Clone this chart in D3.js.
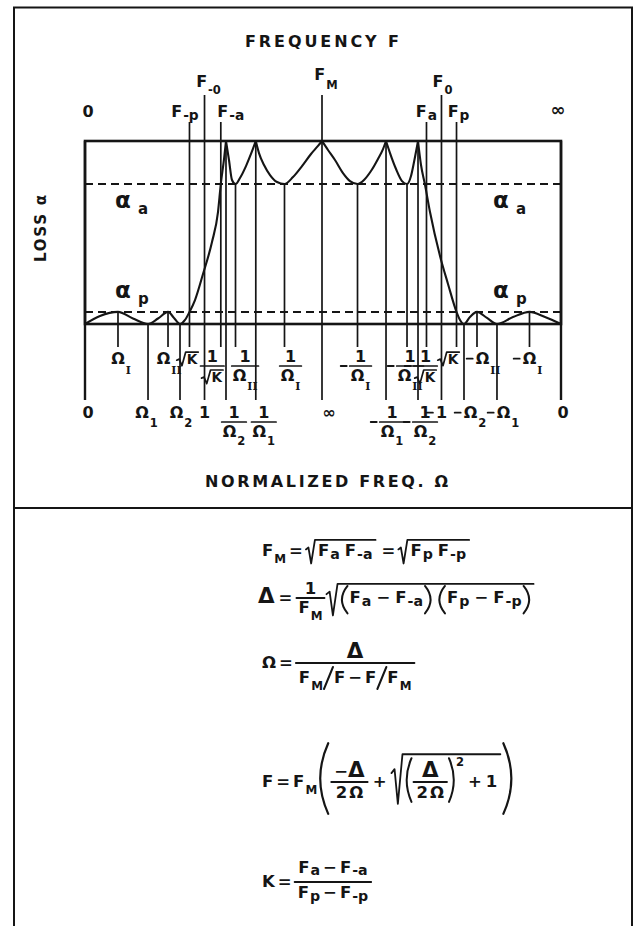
<!DOCTYPE html>
<html>
<head>
<meta charset="utf-8">
<title>Loss characteristic and normalized frequency</title>
<script src="https://cdn.jsdelivr.net/npm/d3@7/dist/d3.min.js"></script>
<style>
  html, body { margin: 0; padding: 0; background: #fff; }
  svg { display: block; }
  svg text { font-family: "DejaVu Sans", "Liberation Sans", sans-serif; font-weight: bold; fill: #151515; }
</style>
</head>
<body>
<svg id="chart" width="638" height="926"></svg>
<script>
// ---------------- data ----------------

// Marks on the normalized-frequency axis, in axis units (0 = left end, 100 = right end)
const omegaLabels = ["0", "Ω_I", "Ω_1", "Ω_II", "Ω_2", "√K", "1", "1/√K", "1/Ω_2", "1/Ω_II", "1/Ω_1", "1/Ω_I", "∞",
                     "-1/Ω_I", "-1/Ω_1", "-1/Ω_II", "-1/Ω_2", "-1/√K", "-1", "√K", "-Ω_2", "-Ω_II", "-Ω_1", "-Ω_I", "0"];
const omegaPos = [0, 6.93, 13.24, 17.44, 19.96, 21.95, 25.11, 28.53, 29.62, 31.62, 35.88, 41.91, 49.79,
                  57.25, 63.24, 67.65, 69.96, 71.74, 74.89, 78.05, 79.62, 82.35, 86.55, 93.38, 100];
// "long" marks run down to the lower label row, "short" ones stop at the upper row
const omegaRow = ["long", "short", "long", "short", "long", "short", "long", "short", "long", "short", "long", "short", "long",
                  "short", "long", "short", "long", "short", "long", "short", "long", "short", "long", "short", "long"];
// where each guide line starts: pole (top of frame), stop / pass / zero (on the loss curve), freq (frequency tick)
const omegaFrom = ["pole", "pass", "zero", "pass", "zero", "freq", "freq", "freq", "pole", "stop", "pole", "stop", "freq",
                   "stop", "pole", "stop", "pole", "freq", "freq", "freq", "zero", "pass", "zero", "pass", "pole"];

// Frequency labels F with subscripts, each attached to one omega mark
const freqSubs = ["-p", "-0", "-a", "M", "a", "0", "p"];
const freqMark = [5, 6, 7, 12, 17, 18, 19];
const freqTier = ["low", "high", "low", "high", "low", "high", "low"];
const freqEnds = ["0", "∞"];

// Loss levels as a fraction of the frame height (top edge = infinite loss)
const lossPass = 0.066;   // α_p
const lossStop = 0.765;   // α_a

// Loss curve, one piece between consecutive attenuation poles: [axis units, loss]
const lossCurve = [
  [[0, 0], [3.15, 0.044], [6.93, 0.066], [10.08, 0.03], [13.24, 0], [15.34, 0.03], [17.44, 0.066],
   [18.7, 0.033], [19.96, 0], [21.01, 0.022], [21.95, 0.066], [23.11, 0.131], [24.79, 0.273],
   [26.68, 0.448], [27.94, 0.612], [28.53, 0.765], [29.2, 0.9], [29.62, 1]],
  [[29.62, 1], [30.25, 0.896], [30.88, 0.787], [31.62, 0.765], [32.56, 0.798], [33.82, 0.863],
   [34.87, 0.929], [35.88, 1]],
  [[35.88, 1], [36.55, 0.934], [37.61, 0.869], [38.87, 0.814], [40.34, 0.776], [41.91, 0.765],
   [43.7, 0.803], [45.59, 0.863], [47.48, 0.929], [48.95, 0.973], [49.79, 1]],
  [[49.79, 1], [51.05, 0.951], [52.52, 0.896], [54.2, 0.825], [55.67, 0.781], [57.25, 0.765],
   [58.61, 0.787], [60.08, 0.836], [61.55, 0.902], [62.61, 0.956], [63.24, 1]],
  [[63.24, 1], [64.08, 0.934], [65.34, 0.847], [66.6, 0.781], [67.65, 0.765], [68.49, 0.809],
   [69.12, 0.885], [69.96, 1]],
  [[69.96, 1], [70.59, 0.869], [71.4, 0.765], [72.48, 0.612], [74.58, 0.372], [76.26, 0.219],
   [78.05, 0.066], [78.78, 0.022], [79.62, 0], [80.88, 0.038], [82.35, 0.066], [84.45, 0.033],
   [86.55, 0], [89.92, 0.038], [93.38, 0.066], [96.64, 0.038], [100, 0]]
];

// ---------------- layout ----------------
const W = 638, H = 926;
const INK = "#151515";
const frame = { left: 85, right: 561, top: 141, bottom: 324 };
const rows = { tickHigh: 95, tickLow: 122, shortEnd: 347, longEnd: 400,
               shortBase: 364, shortBar: 366, longBase: 418, longBar: 422 };
// small horizontal shifts of individual axis labels away from their marks
const omegaNudge = { 0: 3, 2: -6, 3: -4.5, 4: -3.5, 5: 2.5, 7: -4, 8: 3.5, 9: 4, 10: 3.5, 11: 3, 12: 7,
                     14: 1.5, 15: -2.5, 16: 2.5, 17: 3.5, 19: -3.5, 20: 6.5, 21: 5.5, 22: 6.5, 24: 2 };
const freqNudge = [-4.5, 4, 10, 4, 0, 1, 2];

const svg = d3.select("#chart");
const x = d3.scaleLinear().domain([0, 100]).range([frame.left, frame.right]);
const y = d3.scaleLinear().domain([0, 1]).range([frame.bottom, frame.top]);

svg.append("rect").attr("width", W).attr("height", H).attr("fill", "#fff");

// ---------- a tiny box layout for math lettering ----------
const meas = svg.append("text").attr("x", -999).attr("y", -999);
function textW(s, size, fam) {
  meas.attr("font-size", size).style("font-family", fam || null).text(s);
  return meas.node().getComputedTextLength();
}
function stroke(sel, w) {
  return sel.attr("fill", "none").attr("stroke", INK).attr("stroke-width", w || 1.8).attr("stroke-linecap", "round");
}
function tx(s, size, fam) {
  const w = textW(s, size, fam);
  return { w, a: size * 0.73, d: size * 0.05, anc: w / 2,
    draw(g, x0, y0) {
      const t = g.append("text").attr("x", x0).attr("y", y0).attr("font-size", size).text(s);
      if (fam) t.style("font-family", fam);
    } };
}
function hs(w) { return { w, a: 0, d: 0, anc: w / 2, draw() {} }; }
function row(items) {
  const w = d3.sum(items, b => b.w);
  return { w, a: d3.max(items, b => b.a), d: d3.max(items, b => b.d), anc: w / 2,
    draw(g, x0, y0) { let cx = x0; items.forEach(b => { b.draw(g, cx, y0); cx += b.w; }); } };
}
// subscript: lowercase sits near the baseline, capitals / digits / numerals drop lower
function sub(base, s, size, mode) {
  const lower = /[a-z]/.test(s);
  const roman = mode === "roman";
  const ss = roman ? size * 0.68 : lower ? size * 0.86 : size * 0.72;
  const drop = roman ? size * 0.6 : mode === "deep" ? size * 0.55 : lower ? size * 0.16 : size * 0.42;
  const sb = tx(s, ss, roman ? "DejaVu Serif" : null);
  return { w: base.w + 1 + sb.w, a: base.a, d: Math.max(base.d, drop + ss * 0.2), anc: base.w / 2,
    draw(g, x0, y0) { base.draw(g, x0, y0); sb.draw(g, x0 + base.w + 1, y0 + drop); } };
}
function sup(base, s, size) {
  const sb = tx(s, size * 0.7);
  const rise = base.a - size * 0.45;
  return { w: base.w + 1 + sb.w, a: Math.max(base.a, rise + sb.a), d: base.d, anc: base.anc,
    draw(g, x0, y0) { base.draw(g, x0, y0); sb.draw(g, x0 + base.w + 1, y0 - rise); } };
}
function frac(num, den, o = {}) {
  const axis = o.axis ?? 5, gap = o.gap ?? 3, pad = o.pad ?? 3;
  const w = Math.max(num.w, den.w) + 2 * pad;
  return { w, a: axis + gap + num.d + num.a, d: gap + den.a + den.d - axis, frac: true,
    anc: (w - den.w) / 2 + den.anc,
    draw(g, x0, y0) {
      const by = y0 - axis;
      stroke(g.append("line").attr("x1", x0).attr("x2", x0 + w).attr("y1", by).attr("y2", by), o.sw || 1.8);
      num.draw(g, x0 + (w - num.w) / 2, by - gap - num.d);
      den.draw(g, x0 + (w - den.w) / 2, by + gap + den.a);
    } };
}
function root(body, o = {}) {
  const lift = o.lift ?? 4, pad = o.pad ?? 3, sw = o.sw ?? 11;
  const top = body.a + lift, bot = body.d + (o.drop ?? 2);
  const w = sw + pad + body.w + pad;
  return { w, a: top + 1, d: bot, anc: sw + pad + body.anc,
    draw(g, x0, y0) {
      const ty = y0 - top, by = y0 + bot, h = top + bot;
      stroke(g.append("path").attr("d",
        `M${x0},${y0 - h * 0.28} L${x0 + sw * 0.28},${y0 - h * 0.36} L${x0 + sw * 0.58},${by} L${x0 + sw},${ty} H${x0 + w}`),
        o.sw2 || 1.8).attr("stroke-linejoin", "round");
      body.draw(g, x0 + sw + pad, y0);
    } };
}
function paren(body, o = {}) {
  const ext = o.ext ?? 3, pw = o.pw ?? 7, gap = o.gap ?? 2;
  const a = body.a + ext, d = body.d + ext;
  const w = pw * 2 + gap * 2 + body.w;
  return { w, a, d, anc: w / 2,
    draw(g, x0, y0) {
      const t = y0 - a, b = y0 + d, m = (t + b) / 2, xr = x0 + w;
      stroke(g.append("path").attr("d", `M${x0 + pw},${t} Q${x0 - pw * 0.6},${m} ${x0 + pw},${b}`), o.sw || 2);
      body.draw(g, x0 + pw + gap, y0);
      stroke(g.append("path").attr("d", `M${xr - pw},${t} Q${xr + pw * 0.6},${m} ${xr - pw},${b}`), o.sw || 2);
    } };
}
function slash() {
  return { w: 11, a: 16, d: 6, anc: 5,
    draw(g, x0, y0) { stroke(g.append("line").attr("x1", x0 + 1).attr("y1", y0 + 6).attr("x2", x0 + 10).attr("y2", y0 - 16), 2); } };
}

// ---------- frame of the whole figure ----------
stroke(svg.append("path").attr("d", "M14,930 V7.5 H632 V930"), 2);
stroke(svg.append("line").attr("x1", 14).attr("x2", 632).attr("y1", 508).attr("y2", 508), 2);

// ---------- guide lines of the characteristic frequencies ----------
function startY(i) {
  const f = omegaFrom[i];
  if (f === "pole") return frame.top;
  if (f === "stop") return y(lossStop);
  if (f === "pass") return y(lossPass);
  if (f === "zero") return y(0);
  const k = freqMark.indexOf(i);
  return freqTier[k] === "high" ? rows.tickHigh : rows.tickLow;
}
svg.append("g").selectAll("line").data(omegaPos).join("line")
  .attr("x1", d => x(d)).attr("x2", d => x(d))
  .attr("y1", (d, i) => startY(i))
  .attr("y2", (d, i) => omegaRow[i] === "long" ? rows.longEnd : rows.shortEnd)
  .attr("stroke", INK).attr("stroke-width", (d, i) => (i === 0 || i === omegaPos.length - 1) ? 2.4 : 1.7);

// ---------- loss frame ----------
svg.append("rect")
  .attr("x", frame.left).attr("y", frame.top)
  .attr("width", frame.right - frame.left).attr("height", frame.bottom - frame.top)
  .attr("fill", "none").attr("stroke", INK).attr("stroke-width", 2.6);

// α_a and α_p levels
svg.append("g").selectAll("line").data([lossStop, lossPass]).join("line")
  .attr("x1", frame.left).attr("x2", frame.right)
  .attr("y1", d => y(d)).attr("y2", d => y(d))
  .attr("stroke", INK).attr("stroke-width", 2).attr("stroke-dasharray", "8,5");

// loss curve
const lineGen = d3.line().x(d => x(d[0])).y(d => y(d[1])).curve(d3.curveMonotoneX);
svg.append("g").selectAll("path").data(lossCurve).join("path")
  .attr("d", lineGen).attr("fill", "none").attr("stroke", INK)
  .attr("stroke-width", 2.1).attr("stroke-linejoin", "round");

// α labels
function alphaLabel(px, py, s) {
  const g = svg.append("g");
  g.append("text").attr("x", px).attr("y", py).attr("font-size", 23).text("α");
  g.append("text").attr("x", px + 23).attr("y", py + 6).attr("font-size", 15).text(s);
}
alphaLabel(x(6.3), y(lossStop) + 24, "a");
alphaLabel(x(85.7), y(lossStop) + 24, "a");
alphaLabel(x(6.3), y(lossPass) - 14, "p");
alphaLabel(x(85.7), y(lossPass) - 14, "p");

// ---------- titles ----------
svg.append("text").attr("x", 245).attr("y", 47).attr("font-size", 16)
  .attr("textLength", 154).attr("lengthAdjust", "spacing").text("FREQUENCY F");
svg.append("text").attr("x", 205).attr("y", 487).attr("font-size", 16)
  .attr("textLength", 243).attr("lengthAdjust", "spacing").text("NORMALIZED FREQ. Ω");
svg.append("text").attr("transform", "translate(46,262) rotate(-90)").attr("font-size", 15)
  .attr("textLength", 67).attr("lengthAdjust", "spacing").text("LOSS α");

// ---------- frequency labels ----------
const LS = 16;
freqSubs.forEach((s, k) => {
  const box = sub(tx("F", LS), s, LS, s === "M" ? "deep" : null);
  const cx = x(omegaPos[freqMark[k]]) + freqNudge[k];
  const base = freqTier[k] === "high" ? (s === "M" ? 80 : 87) : 117;
  box.draw(svg.append("g"), cx - box.w / 2, base);
});
svg.append("text").attr("x", x(0) + 3).attr("y", 117).attr("font-size", LS).attr("text-anchor", "middle").text(freqEnds[0]);
svg.append("text").attr("x", x(100) - 3).attr("y", 116).attr("font-size", LS + 2).attr("text-anchor", "middle").text(freqEnds[1]);

// ---------- normalized-frequency labels ----------
function omegaBox(str, size) {
  let neg = false;
  if (str[0] === "-") { neg = true; str = str.slice(1); }
  const atom = s => {
    if (s[0] === "√") return root(tx(s.slice(1), size * 0.85), { sw: 9, lift: 2, pad: 1, drop: 1, sw2: 1.7 });
    if (s.includes("_")) {
      const [b, sb] = s.split("_");
      return sub(tx(b, size), sb, size, /I/.test(sb) ? "roman" : "deep");
    }
    return tx(s, size);
  };
  const core = s => s.includes("/") ? frac(atom(s.split("/")[0]), atom(s.split("/")[1]), { axis: 0, gap: 3, pad: 1, sw: 1.7 }) : atom(s);
  return { neg, core: core(str) };
}
omegaLabels.forEach((lab, i) => {
  const { neg, core } = omegaBox(lab, LS);
  const g = svg.append("g");
  const cx = x(omegaPos[i]) + (omegaNudge[i] || 0);
  const short = omegaRow[i] === "short";
  const base = core.frac ? (short ? rows.shortBar : rows.longBar) : (short ? rows.shortBase : rows.longBase);
  const x0 = cx - core.anc;
  core.draw(g, x0, base);
  if (neg) {
    const my = core.frac ? base : base - LS * 0.33;
    stroke(g.append("line").attr("x1", x0 - 9).attr("x2", x0 - 3).attr("y1", my).attr("y2", my), 1.8);
  }
});

// ---------- formulas ----------
const FS = 16.5;
const F = s => s ? sub(tx("F", FS), s, FS) : tx("F", FS);
const op = (s, sp = 3) => row([hs(sp), tx(s, FS), hs(sp)]);
const D = () => tx("Δ", FS * 1.3);
const fg = () => svg.append("g");

// F_M = √(F_a F_-a) = √(F_p F_-p)
row([F("M"), op("="), root(row([F("a"), hs(5), F("-a")]), { sw: 9 }), hs(3), op("="), root(row([F("p"), hs(5), F("-p")]), { sw: 9 })])
  .draw(fg(), 262, 556);

// Δ = 1/F_M √((F_a − F_-a)(F_p − F_-p))
row([D(), op("=", 4), frac(tx("1", FS), F("M"), { pad: 2 }), hs(2),
     root(row([paren(row([F("a"), op("−", 5), F("-a")]), { ext: 5 }), hs(6),
               paren(row([F("p"), op("−", 5), F("-p")]), { ext: 5 })]), { lift: 2 })])
  .draw(fg(), 258, 603);

// Ω = Δ / (F_M / F − F / F_M)
row([tx("Ω", FS), op("="), frac(D(), row([F("M"), slash(), F(""), op("−"), F(""), slash(), F("M")]), { gap: 4, pad: 3 })])
  .draw(fg(), 262, 668);

// F = F_M ( −Δ/2Ω + √((Δ/2Ω)² + 1) )
const twoOmega = () => row([tx("2", FS), hs(2), tx("Ω", FS)]);
row([F(""), op("="), F("M"), hs(1),
     paren(row([frac(row([tx("−", FS), D()]), twoOmega(), { gap: 4 }), op("+", 5),
                root(row([sup(paren(frac(D(), twoOmega(), { gap: 4 }), { ext: 3, pw: 6 }), "2", FS), op("+", 4), tx("1", FS)]),
                     { lift: 3 })]), { ext: 10, pw: 10, gap: 3, sw: 2.2 })])
  .draw(fg(), 262, 787);

// K = (F_a − F_-a) / (F_p − F_-p)
row([tx("K", FS), op("="), frac(row([F("a"), op("−"), F("-a")]), row([F("p"), op("−"), F("-p")]), { gap: 4, pad: 3 })])
  .draw(fg(), 262, 887);

meas.remove();
</script>
</body>
</html>
